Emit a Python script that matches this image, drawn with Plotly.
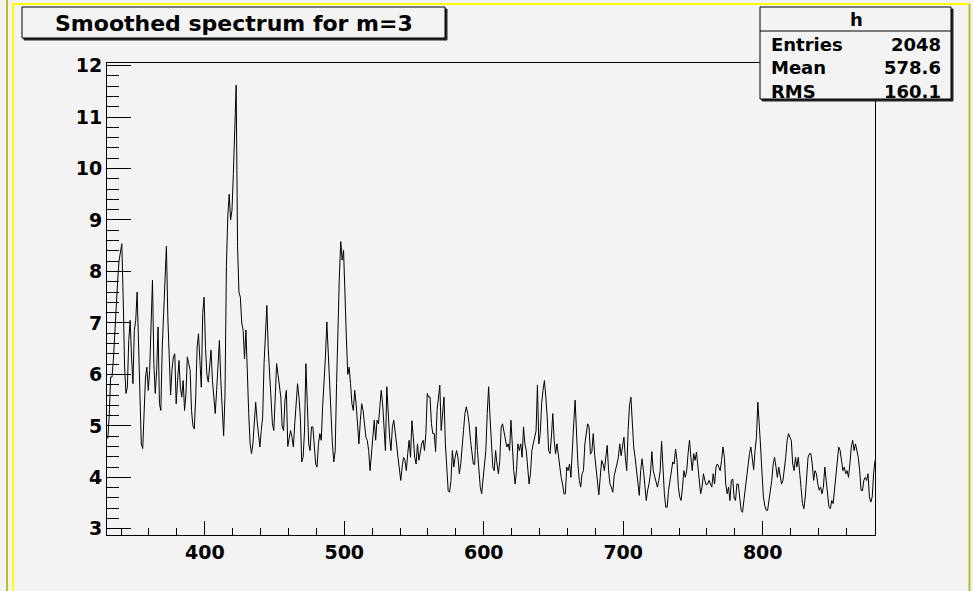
import plotly.graph_objects as go

# ---------------------------------------------------------------- data
BIN_START = 330          # low edge of the first bin, one unit per bin
CONTENTS = [
    # 330
    4.75, 5.2, 5.95, 5.95, 6.3, 6.86, 7.25, 7.8, 8.2, 8.41,
    # 340
    8.54, 7.5, 6.14, 5.63, 5.75, 6.66, 7.05, 6.34, 5.82, 6.86,
    # 350
    7.05, 7.6, 6.5, 5.43, 4.65, 4.56, 5.17, 5.95, 6.14, 5.69,
    # 360
    6.08, 6.86, 7.83, 6.21, 5.63, 6.08, 6.92, 5.43, 5.3, 6.53,
    # 370
    7.18, 8.0, 8.49, 7.12, 6.34, 5.6, 6.1, 6.34, 6.4, 5.43,
    # 380
    5.88, 6.27, 5.75, 5.56, 5.88, 5.3, 5.62, 6.34, 6.21, 6.08,
    # 390
    5.3, 5.0, 4.94, 5.56, 6.53, 6.79, 6.27, 5.75, 7.18, 7.5,
    # 400
    6.53, 6.0, 5.85, 6.21, 6.47, 5.88, 5.56, 5.24, 5.69, 6.34,
    # 410
    6.66, 5.88, 5.3, 4.81, 5.6, 8.1, 9.06, 9.5, 9.0, 9.19,
    # 420
    9.9, 11.0, 11.62, 8.5, 7.6, 7.5, 7.0, 6.86, 6.3, 6.86,
    # 430
    5.88, 5.24, 4.65, 4.46, 4.65, 5.04, 5.46, 5.1, 4.78, 4.59,
    # 440
    4.91, 5.17, 6.21, 6.86, 7.34, 6.5, 6.0, 5.56, 5.04, 4.91,
    # 450
    5.69, 6.21, 6.0, 5.82, 5.56, 4.98, 4.91, 5.5, 5.69, 4.6,
    # 460
    4.78, 4.91, 4.78, 4.59, 5.04, 5.56, 5.82, 5.56, 5.17, 4.3,
    # 470
    4.39, 4.9, 6.21, 5.43, 4.65, 4.52, 4.98, 4.98, 4.52, 4.26,
    # 480
    4.2, 4.65, 4.85, 4.72, 5.37, 5.82, 6.34, 7.02, 6.4, 5.82,
    # 490
    5.17, 4.65, 4.3, 4.52, 5.82, 7.12, 7.93, 8.58, 8.22, 8.41,
    # 500
    7.31, 6.73, 6.0, 6.14, 5.82, 5.43, 5.3, 5.69, 5.43, 5.11,
    # 510
    4.65, 5.1, 5.43, 5.3, 5.05, 4.78, 4.72, 4.52, 4.13, 4.52,
    # 520
    4.91, 5.11, 4.72, 5.11, 5.04, 5.43, 5.69, 5.43, 5.04, 4.52,
    # 530
    5.76, 5.17, 4.78, 4.52, 4.98, 5.11, 4.91, 4.65, 4.39, 4.13,
    # 540
    3.94, 4.2, 4.39, 4.33, 4.13, 4.46, 4.72, 4.39, 5.1, 4.78,
    # 550
    4.39, 4.26, 4.65, 4.33, 4.52, 4.65, 4.72, 4.52, 4.85, 5.63,
    # 560
    5.56, 5.56, 5.04, 4.85, 4.85, 4.5, 5.3, 5.56, 5.79, 4.91,
    # 570
    5.3, 5.56, 4.65, 4.13, 3.74, 3.71, 3.94, 4.52, 4.2, 4.39,
    # 580
    4.52, 4.39, 4.07, 4.26, 4.52, 4.91, 5.24, 5.37, 5.24, 5.04,
    # 590
    4.72, 4.46, 4.26, 4.25, 4.98, 4.52, 4.13, 3.81, 3.68, 3.94,
    # 600
    4.13, 4.52, 5.24, 5.76, 5.17, 4.52, 4.2, 4.13, 4.52, 4.26,
    # 610
    4.07, 4.33, 4.98, 5.04, 4.91, 4.75, 4.59, 4.65, 4.52, 5.11,
    # 620
    4.52, 4.13, 3.87, 4.13, 4.65, 4.52, 4.65, 4.39, 4.98, 4.65,
    # 630
    4.52, 4.2, 3.87, 4.07, 4.52, 4.65, 4.78, 4.9, 5.79, 4.65,
    # 640
    4.85, 5.43, 5.69, 5.88, 5.56, 5.17, 4.52, 4.46, 4.78, 5.24,
    # 650
    4.72, 4.46, 4.65, 4.39, 4.13, 4.0, 3.87, 3.68, 3.68, 4.2,
    # 660
    4.13, 4.26, 4.0, 4.65, 5.04, 5.5, 4.85, 4.26, 3.94, 3.81,
    # 670
    4.07, 4.13, 4.65, 4.91, 5.04, 4.98, 4.45, 4.5, 4.85, 4.45,
    # 680
    4.13, 3.9, 3.66, 4.0, 4.33, 4.26, 4.13, 4.39, 4.62, 4.13,
    # 690
    3.87, 3.81, 3.71, 4.03, 4.13, 4.26, 4.39, 4.65, 4.42, 4.59,
    # 700
    4.78, 4.39, 4.13, 4.91, 5.4, 5.56, 5.1, 4.59, 4.39, 4.13,
    # 710
    3.81, 3.65, 4.13, 4.36, 4.13, 3.81, 3.55, 3.75, 3.87, 4.07,
    # 720
    4.5, 4.13, 4.0, 3.87, 3.81, 3.94, 4.13, 4.7, 4.13, 3.68,
    # 730
    3.42, 3.42, 3.75, 3.94, 4.2, 4.3, 4.26, 4.55, 4.35, 3.81,
    # 740
    3.62, 3.55, 3.81, 4.13, 4.0, 4.13, 4.46, 4.72, 4.39, 4.13,
    # 750
    4.46, 4.33, 4.49, 4.2, 3.87, 3.68, 3.81, 4.07, 3.94, 3.85,
    # 760
    3.87, 3.94, 3.87, 3.81, 4.07, 3.87, 4.2, 4.26, 4.2, 4.13,
    # 770
    4.33, 4.59, 4.39, 3.87, 3.68, 3.81, 3.55, 3.94, 3.97, 3.6,
    # 780
    3.55, 3.87, 3.87, 3.55, 3.36, 3.32, 3.55, 3.68, 4.0, 4.26,
    # 790
    4.46, 4.59, 4.39, 4.15, 4.52, 4.78, 5.46, 5.11, 4.59, 4.07,
    # 800
    3.62, 3.45, 3.36, 3.36, 3.55, 3.72, 3.94, 4.26, 4.39, 4.2,
    # 810
    4.0, 4.2, 4.0, 3.87, 3.94, 4.13, 4.39, 4.72, 4.85, 4.78,
    # 820
    4.72, 4.26, 4.13, 4.39, 4.2, 4.39, 4.0, 3.8, 3.49, 3.39,
    # 830
    3.62, 4.07, 4.39, 4.46, 4.46, 4.26, 3.94, 4.13, 4.07, 3.87,
    # 840
    3.75, 3.81, 3.68, 3.81, 4.2, 3.94, 3.62, 3.42, 3.39, 3.55,
    # 850
    3.49, 3.75, 4.0, 4.2, 4.59, 4.52, 4.26, 4.13, 4.2, 4.07,
    # 860
    4.13, 4.0, 4.26, 4.59, 4.72, 4.52, 4.65, 4.52, 4.39, 4.13,
    # 870
    3.75, 3.74, 3.94, 4.0, 3.94, 4.07, 3.62, 3.52, 3.62, 4.07,
    # 880
    4.33,
]
BIN_CENTERS = [BIN_START + i + 0.5 for i in range(len(CONTENTS))]

X_TICKS = [400, 500, 600, 700, 800]
X_TICK_LABELS = ["400", "500", "600", "700", "800"]
Y_TICKS = [3, 4, 5, 6, 7, 8, 9, 10, 11, 12]
Y_TICK_LABELS = ["3", "4", "5", "6", "7", "8", "9", "10", "11", "12"]

TITLE = "Smoothed spectrum for m=3"
HIST_NAME = "h"
STATS = [("Entries", "2048"), ("Mean", "578.6"), ("RMS", "160.1")]

# ---------------------------------------------------------------- style
W, H = 973, 591
PLOT_L, PLOT_R, PLOT_T, PLOT_B = 107, 875, 63, 535
BG = "#f3f3f3"
OLIVE = "#bcbc2c"
YELLOW = "#ffff00"
FONT = "DejaVu Sans"


def px(x):
    """canvas pixel column -> paper x"""
    return (x - PLOT_L) / (PLOT_R - PLOT_L)


def py(y):
    """canvas pixel row -> paper y"""
    return (PLOT_B - y) / (PLOT_B - PLOT_T)


def line(x0, y0, x1, y1, color, width):
    return dict(type="line", xref="paper", yref="paper", layer="above",
                x0=px(x0), y0=py(y0), x1=px(x1), y1=py(y1),
                line=dict(color=color, width=width))


def box(x0, y0, x1, y1, fill, edge, width=1):
    return dict(type="rect", xref="paper", yref="paper", layer="above",
                x0=px(x0), y0=py(y0), x1=px(x1), y1=py(y1),
                fillcolor=fill, line=dict(color=edge, width=width))


fig = go.Figure(
    go.Scatter(x=BIN_CENTERS, y=CONTENTS, mode="lines",
               line=dict(color="black", width=1), hoverinfo="skip")
)

shapes = [
    # pad borders
    line(7, 0, 7, H, OLIVE, 2),
    line(13, 4, 13, H, YELLOW, 2),
    line(13, 4, 970, 4, YELLOW, 2),
    line(969.5, 4, 969.5, H, OLIVE, 2),
    # title box with its shadow
    box(24, 9, 447, 40, "#222222", "#222222"),
    box(22, 7, 445, 38, BG, "black"),
    # statistics box with its shadow
    box(762, 9, 953, 101, "#222222", "#222222"),
    box(760, 7, 951, 99, BG, "black"),
    line(760, 31, 951, 31, "black", 1),
]

annotations = [
    dict(text=TITLE, x=px(234), y=py(23), xanchor="center", yanchor="middle",
         size=22),
    dict(text=HIST_NAME, x=px(856), y=py(20), xanchor="center",
         yanchor="middle", size=18),
]
for i, (label, value) in enumerate(STATS):
    yc = 44 + i * 24
    annotations.append(dict(text=label, x=px(769), y=py(yc),
                            xanchor="left", yanchor="middle", size=18))
    annotations.append(dict(text=value, x=px(943), y=py(yc),
                            xanchor="right", yanchor="middle", size=18))
for a in annotations:
    size = a.pop("size")
    a.update(xref="paper", yref="paper", showarrow=False,
             font=dict(family=FONT, size=size, color="black", weight="bold"))

tick_font = dict(family=FONT, size=19, color="black", weight="bold")

fig.update_layout(
    width=W, height=H,
    margin=dict(l=PLOT_L, r=W - PLOT_R, t=PLOT_T, b=H - PLOT_B, pad=0),
    paper_bgcolor=BG, plot_bgcolor=BG,
    showlegend=False,
    shapes=shapes,
    annotations=annotations,
    xaxis=dict(
        range=[329.9, 880.5], tickmode="array",
        tickvals=X_TICKS, ticktext=X_TICK_LABELS,
        ticks="inside", ticklen=14, tickwidth=1, tickcolor="black",
        showline=True, linecolor="black", linewidth=1, mirror=True,
        showgrid=False, zeroline=False, tickfont=tick_font,
        minor=dict(dtick=20, tick0=0, ticks="inside", ticklen=7,
                   tickwidth=1, tickcolor="black", showgrid=False),
    ),
    yaxis=dict(
        range=[2.88, 12.05], tickmode="array",
        tickvals=Y_TICKS, ticktext=Y_TICK_LABELS,
        ticks="inside", ticklen=24, tickwidth=1, tickcolor="black",
        showline=True, linecolor="black", linewidth=1, mirror=True,
        showgrid=False, zeroline=False, tickfont=tick_font,
        minor=dict(dtick=0.2, tick0=0, ticks="inside", ticklen=12,
                   tickwidth=1, tickcolor="black", showgrid=False),
    ),
)

fig.write_html("out.html")
